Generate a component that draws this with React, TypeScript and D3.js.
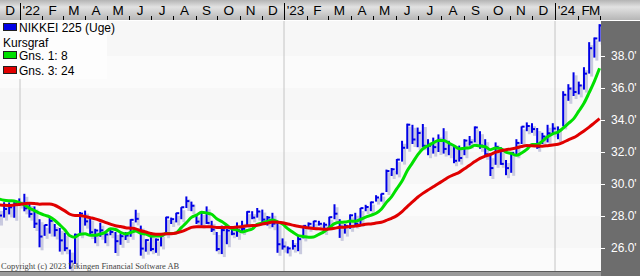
import React from "react";
import * as d3 from "d3";

// Weekly closes before the first plotted week (Jun 4 2021 .. Nov 26 2021), used for the moving averages
const historyCloses = [
  28941, 28948, 28964, 29066, 28783, 27940, 28003, 27548, 27283, 27820, 27977, 27013, 27641,
  29128, 30382, 30500, 30248, 28771, 28049, 29068, 28804, 28892, 29611, 29609, 29745, 28751,
];

const firstWeek = "2021-12-03"; // Friday of first plotted week
const lastWeek = "2024-03-01";

const closes = [
  28029, 28437, 28545, 28782, 28791,
  28478, 28124, 27522, 26717, 27439, 27696, 27122, 26476, 25985, 25162, 26827, 28149, 27665,
  26985, 27093, 27105, 26848, 27003, 26427, 26739, 26781, 27761, 27824, 25963, 26491, 25935,
  26517, 26788, 27914, 27801, 28176, 28547, 28930, 28641, 27650, 28214, 27567, 27153, 25937,
  27116, 27090, 26891, 27105, 27199, 28263, 27899, 28283, 27777, 27901, 27527, 26235, 26095,
  25973, 26120, 26554, 27383, 27509, 27671, 27514, 27454, 27927, 28144, 27334, 27385, 28041,
  27518, 28493, 28564, 28856, 29157, 29388, 30808, 30916, 31524, 32265, 33706, 32782, 33189,
  32388, 32391, 32304, 32759, 32193, 32474, 31450, 31624, 32711, 32607, 33533, 32402, 31858,
  30995, 32316, 31259, 30992, 31950, 32568, 33585, 33625, 33432, 32307, 32970, 33169, 33464,
  33377, 35577, 35963, 35751, 36158, 36897, 38487, 39098, 39910,
];

const highs = [
  28500, 28860, 28850, 28870, 29100,
  29388, 28813, 28600, 27800, 27450, 27880, 27500, 27250, 26950, 25900, 26900, 28250, 28338,
  27900, 27200, 27580, 27000, 27150, 27000, 26900, 27000, 27800, 28389, 27400, 26550, 27000,
  26600, 26900, 27950, 27900, 28200, 28550, 29222, 28900, 28100, 28250, 28600, 27700, 27000,
  27400, 27200, 27300, 27600, 27700, 28300, 28300, 28500, 28400, 28000, 28200, 27600, 26600,
  26100, 26500, 26800, 27400, 27600, 27700, 27700, 27600, 27950, 28734, 27800, 27500, 28100,
  28200, 28500, 28700, 28900, 29300, 29400, 30900, 31000, 31560, 32700, 33772, 33700, 33527,
  33750, 32800, 32900, 33100, 33488, 32700, 32400, 32400, 32800, 33000, 33600, 33300, 32800,
  31800, 32600, 32300, 31500, 32000, 32800, 33600, 33850, 33800, 33500, 33200, 33700, 33800,
  33600, 35800, 36239, 36980, 36400, 37300, 38865, 39156, 39990,
];

const lows = [
  27590, 27900, 28100, 27890, 28650,
  28293, 27900, 27250, 26044, 26760, 26900, 26720, 25776, 25800, 24681, 25000, 26800, 27400,
  26750, 26300, 26700, 26300, 26800, 25688, 26200, 26500, 26700, 27600, 25520, 25770, 25800,
  25700, 26100, 26800, 27500, 27600, 27800, 28500, 28300, 27500, 27400, 27500, 27000, 25800,
  25621, 26237, 26800, 26700, 27000, 27300, 27800, 27900, 27600, 27400, 27300, 25700, 25900,
  25661, 25900, 25800, 26600, 27200, 27300, 27400, 27000, 27300, 27800, 26632, 26900, 27200,
  27400, 27500, 28300, 28300, 28900, 28900, 29500, 30500, 30600, 31400, 32200, 32500, 32300,
  32300, 31800, 31900, 32000, 31900, 31800, 31300, 31400, 31800, 32400, 32600, 32200, 31700,
  30500, 31200, 31200, 30551, 30700, 31800, 32500, 33300, 33200, 32200, 32500, 32600, 33100,
  32800, 33600, 35200, 35500, 35600, 35900, 36900, 37900, 38900,
];

const priceTicks = [26000, 28000, 30000, 32000, 34000, 36000, 38000];
const monthLetters = ["J", "F", "M", "A", "M", "J", "J", "A", "S", "O", "N", "D"];

const legendItems = [
  { label: "NIKKEI 225 (Uge)", color: "#0000e6" },
  { label: "Kursgraf", color: null },
  { label: "Gns. 1: 8", color: "#00e000" },
  { label: "Gns. 3: 24", color: "#e00000" },
];
const maPeriods = [8, 24];
const maColors = ["#00e000", "#e00000"];

const W = 640;
const H = 276;
const plotRight = 601;
const plotTop = 21;
const plotBottom = 271;

function sma(all: number[], n: number, offset: number) {
  return all.slice(offset).map((_, i) => {
    const end = offset + i + 1;
    return d3.mean(all.slice(end - n, end)) as number;
  });
}

export default function App() {
  const parse = d3.timeParse("%Y-%m-%d");
  const dates = d3.timeFriday.range(parse(firstWeek)!, d3.timeDay.offset(parse(lastWeek)!, 1));
  const x = d3
    .scaleTime()
    .domain([new Date(2022, 0, 1), new Date(2023, 0, 1), new Date(2024, 0, 1)])
    .range([20, 284, 555]);
  const y = d3.scaleLinear().domain([26000, 38000]).range([248, 56]);

  const all = historyCloses.concat(closes);
  const mas = maPeriods.map((p) => sma(all, p, historyCloses.length));
  const line = d3
    .line<number>()
    .x((_, i) => x(dates[i]))
    .y((d) => y(d))
    .curve(d3.curveMonotoneX);

  const months = d3.timeMonth.range(new Date(2021, 11, 1), new Date(2024, 3, 1));
  type Lab = { text: string; cx: number; w: number };
  const labels: Lab[] = [];
  months.forEach((m) => {
    const s = Math.max(x(m), 0);
    const e = Math.min(x(d3.timeMonth.offset(m, 1)), plotRight - 1);
    if (e <= s - 1) return;
    const text = m.getMonth() === 0 ? "'" + String(m.getFullYear()).slice(2) : monthLetters[m.getMonth()];
    const w = text.length * 7 + 2;
    let cx = (s + e) / 2;
    cx = Math.min(cx, plotRight - 2 - w / 2);
    cx = Math.max(cx, w / 2);
    labels.push({ text, cx, w });
  });
  for (let i = labels.length - 2; i >= 0; i--) {
    const a = labels[i], b = labels[i + 1];
    const overlap = a.cx + a.w / 2 - (b.cx - b.w / 2);
    if (overlap > 0) a.cx -= overlap;
  }

  const bands = priceTicks.slice(0, -1).map((t, i) => ({ y0: y(priceTicks[i + 1]), y1: y(t), i }));

  return (
    <svg width={W} height={H} style={{ position: "absolute", left: 0, top: 0 }} fontFamily="'Liberation Sans', Arial, sans-serif">
      <defs>
        <linearGradient id="topg" x1="0" y1="0" x2="0" y2="1">
          <stop offset="0" stopColor="#b4b4b4" />
          <stop offset="0.35" stopColor="#e2e2e2" />
          <stop offset="1" stopColor="#b6b6b6" />
        </linearGradient>
        <clipPath id="plotclip">
          <rect x={0} y={plotTop} width={plotRight} height={plotBottom - plotTop} />
        </clipPath>
      </defs>
      {/* plot background */}
      <rect x={0} y={plotTop} width={plotRight} height={plotBottom - plotTop} fill="#f9f9f9" />
      <g clipPath="url(#plotclip)">
        {bands.map((b) => (
          <rect key={b.i} x={0} y={b.y0} width={plotRight} height={b.y1 - b.y0} fill={b.i % 2 ? "#fbfbfb" : "#f7f7f7"} />
        ))}
        <rect x={0} y={plotTop} width={plotRight} height={y(38000) - plotTop} fill="#f7f7f7" />
        <rect x={0} y={y(26000)} width={plotRight} height={plotBottom - y(26000)} fill="#fbfbfb" />
        {[2022, 2023, 2024].map((yr) => (
          <line key={yr} x1={x(new Date(yr, 0, 1))} x2={x(new Date(yr, 0, 1))} y1={plotTop} y2={plotBottom} stroke="#c4c4c4" />
        ))}
        {/* legend box */}
        <rect x={0} y={plotTop} width={107} height={58} fill="#fdfdfd" />
        {/* bar shadows */}
        {closes.map((c, i) => {
          const xx = x(dates[i]);
          return (
            <g key={"s" + i} fill="#c9cadf">
              <rect x={xx + 1} y={y(highs[i]) + 3} width={3} height={y(lows[i]) - y(highs[i])} />
            </g>
          );
        })}
        {/* bars */}
        {closes.map((c, i) => {
          const xx = x(dates[i]);
          return (
            <g key={"b" + i} stroke="#0000e6">
              <line x1={xx} x2={xx} y1={y(highs[i])} y2={y(lows[i])} strokeWidth={2} />
              <line x1={xx} x2={xx + 3} y1={y(c)} y2={y(c)} strokeWidth={2} />
            </g>
          );
        })}
        {mas.map((m, k) => (
          <path key={k} d={line(m) || ""} fill="none" stroke={maColors[k]} strokeWidth={3} strokeLinejoin="round" />
        ))}
      </g>
      {/* legend */}
      {legendItems.map((it, i) => {
        const base = [32, 47, 60, 75][i];
        return (
          <g key={i}>
            {it.color && <rect x={3.5} y={base - 8.5} width={13} height={7} fill={it.color} stroke="#202020" strokeWidth={1} />}
            <text x={it.color ? 19 : 3} y={base} fontSize={12} fill="#000">
              {it.label}
            </text>
          </g>
        );
      })}
      {/* copyright */}
      <text x={1} y={268.5} fontSize={8.5} fontFamily="'Liberation Serif', 'DejaVu Serif', serif" fill="#444">
        Copyright (c) 2023 Vikingen Financial Software AB
      </text>
      {/* bottom strip */}
      <rect x={0} y={plotBottom} width={W} height={H - plotBottom} fill="#9a9a9a" />
      <line x1={0} x2={W} y1={plotBottom + 0.5} y2={plotBottom + 0.5} stroke="#5a5a5a" />
      {/* right axis panel */}
      <rect x={plotRight} y={plotTop} width={W - plotRight} height={H - plotTop} fill="#6d6d6d" />
      {priceTicks.map((t) => (
        <g key={t}>
          <line x1={plotRight} x2={plotRight + 4} y1={y(t) + 0.5} y2={y(t) + 0.5} stroke="#ffffff" />
          <text x={plotRight + 10} y={y(t) + 4} fontSize={12} fill="#ffffff" fontFamily="'Liberation Sans Narrow', 'Liberation Sans', Arial, sans-serif">
            {(t / 1000).toFixed(1) + "'"}
          </text>
        </g>
      ))}
      {/* top axis */}
      <rect x={0} y={0} width={W} height={plotTop - 1} fill="url(#topg)" />
      <line x1={0} x2={W} y1={plotTop - 0.5} y2={plotTop - 0.5} stroke="#ffffff" />
      {months.map((m, i) => {
        const xx = Math.round(x(m)) + 0.5;
        if (xx < 0 || xx > plotRight) return null;
        const isYear = m.getMonth() === 0;
        return <line key={i} x1={xx} x2={xx} y1={isYear ? 3 : 16} y2={20} stroke="#000" strokeWidth={1} />;
      })}
      {labels.map((l, i) => (
        <text key={i} x={l.cx} y={15} fontSize={13.5} textAnchor="middle" fill="#000" fontFamily="'Liberation Sans Narrow', 'Liberation Sans', Arial, sans-serif">
          {l.text}
        </text>
      ))}
    </svg>
  );
}
